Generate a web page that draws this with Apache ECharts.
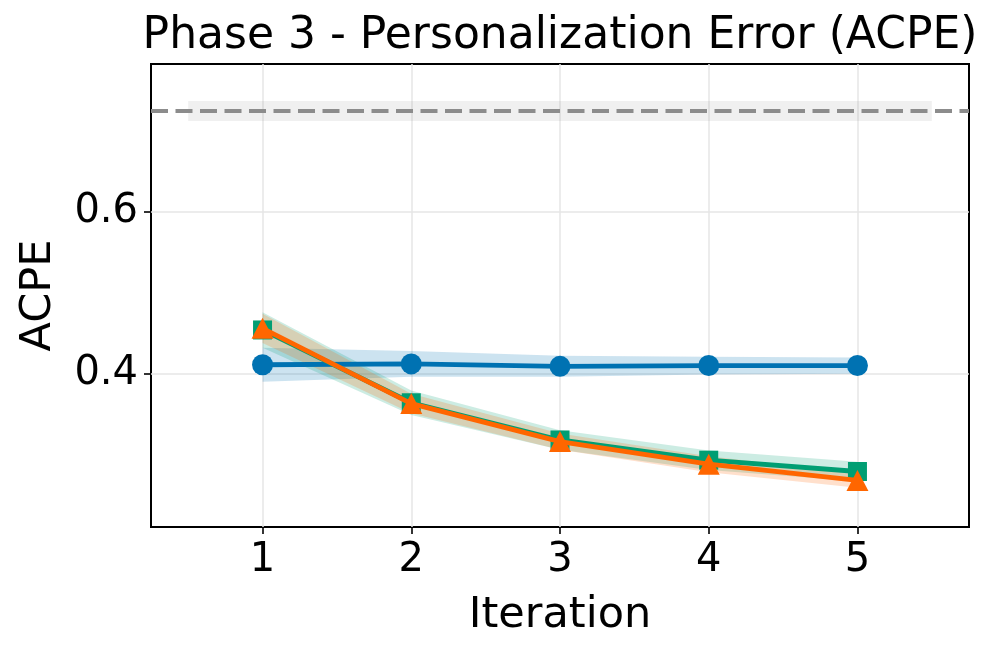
<!DOCTYPE html>
<html><head><meta charset="utf-8">
<script src="https://cdn.jsdelivr.net/npm/echarts@6/dist/echarts.min.js"></script>
<style>html,body{margin:0;padding:0;background:#fff}#c{width:996px;height:652px}</style>
</head><body><div id="c"></div>
<script>
var iterations = [1, 2, 3, 4, 5];
var xTicks = [1, 2, 3, 4, 5];
var yTicks = [0.4, 0.6];
var blueMean = [0.411, 0.412, 0.409, 0.410, 0.410];
var blueSd   = [0.021, 0.016, 0.013, 0.011, 0.010];
var greenMean = [0.454, 0.364, 0.318, 0.293, 0.279];
var greenSd   = [0.022, 0.015, 0.012, 0.012, 0.012];
var orangeMean = [0.456, 0.363, 0.316, 0.288, 0.268];
var orangeSd   = [0.018, 0.012, 0.010, 0.010, 0.009];
var refValue = 0.7246;
var refBand = [0.7122, 0.737];
var refBandX = [0.5, 5.5];
var xRange = [0.25, 5.75];
var yRange = [0.2104, 0.7828];

var FONT = 'DejaVu Sans';
function pts(arr){ return iterations.map(function(x,i){ return [x, arr[i]]; }); }
function bandSeries(mean, sd, color){
  return {
    type:'custom', silent:true, z:1, clip:true,
    data:[[iterations[0], mean[0]]],
    renderItem:function(params, api){
      var up = [], lo = [];
      for (var i=0;i<iterations.length;i++){
        up.push(api.coord([iterations[i], mean[i]+sd[i]]));
        lo.push(api.coord([iterations[i], mean[i]-sd[i]]));
      }
      var points = up.concat(lo.reverse());
      return {type:'polygon', shape:{points:points}, style:{fill:color, opacity:0.2}};
    }
  };
}
var series = [];
series.push({
  type:'custom', silent:true, z:0, clip:true,
  data:[[refBandX[0], refBand[0]]],
  renderItem:function(params, api){
    var p0 = api.coord([refBandX[0], refBand[1]]);
    var p1 = api.coord([refBandX[1], refBand[0]]);
    return {type:'rect', shape:{x:p0[0], y:p0[1], width:p1[0]-p0[0], height:p1[1]-p0[1]},
      style:{fill:'rgba(128,128,128,0.12)'}};
  }
});
series.push({type:'line', silent:true, z:2, symbol:'none',
  data:[[xRange[0], refValue],[xRange[1], refValue]],
  lineStyle:{color:'#8c8c8c', type:[17,7.5], width:4}});
series.push(bandSeries(blueMean, blueSd, '#0072B2'));
series.push(bandSeries(greenMean, greenSd, '#009E73'));
series.push(bandSeries(orangeMean, orangeSd, '#FF6600'));
series.push({type:'line', data:pts(blueMean), symbol:'circle', symbolSize:21,
  lineStyle:{color:'#0072B2', width:4.8}, itemStyle:{color:'#0072B2'}, z:5});
series.push({type:'line', data:pts(greenMean), symbol:'rect', symbolSize:19,
  lineStyle:{color:'#009E73', width:4.8}, itemStyle:{color:'#009E73'}, z:6});
series.push({type:'line', data:pts(orangeMean), symbol:'triangle', symbolSize:[22,21],
  lineStyle:{color:'#FF6600', width:4.8}, itemStyle:{color:'#FF6600'}, z:7});

var chart = echarts.init(document.getElementById('c'), null, {renderer:'canvas'});
chart.setOption({
  animation:false,
  backgroundColor:'#fff',
  title:{text:'Phase 3 - Personalization Error (ACPE)', left:555, textAlign:'center', top:10,
    textStyle:{fontFamily:FONT, fontSize:44, fontWeight:'normal', color:'#000'}},
  grid:{left:151, right:27, top:64, bottom:125, show:true, borderColor:'#000', borderWidth:2, backgroundColor:'transparent'},
  xAxis:{type:'value', min:xRange[0], max:xRange[1],
    name:'Iteration', nameLocation:'middle', nameGap:67,
    nameTextStyle:{fontFamily:FONT, fontSize:43, color:'#000'},
    axisLine:{show:false},
    axisTick:{show:true, length:7, lineStyle:{color:'#000', width:1.6}, customValues:xTicks},
    axisLabel:{fontFamily:FONT, fontSize:40, color:'#000', margin:14, customValues:xTicks},
    splitLine:{show:true, lineStyle:{color:'#e6e6e6', width:1.5}}},
  yAxis:{type:'value', min:yRange[0], max:yRange[1],
    name:'ACPE', nameLocation:'middle', nameGap:91,
    nameTextStyle:{fontFamily:FONT, fontSize:43, color:'#000'},
    axisLine:{show:false},
    axisTick:{show:true, length:7, lineStyle:{color:'#000', width:1.6}, customValues:yTicks},
    axisLabel:{fontFamily:FONT, fontSize:40, color:'#000', margin:13, customValues:yTicks,
      formatter:function(v){ return v.toFixed(1); }},
    splitLine:{show:true, lineStyle:{color:'#e6e6e6', width:1.5}}},
  series:series
});
</script></body></html>
